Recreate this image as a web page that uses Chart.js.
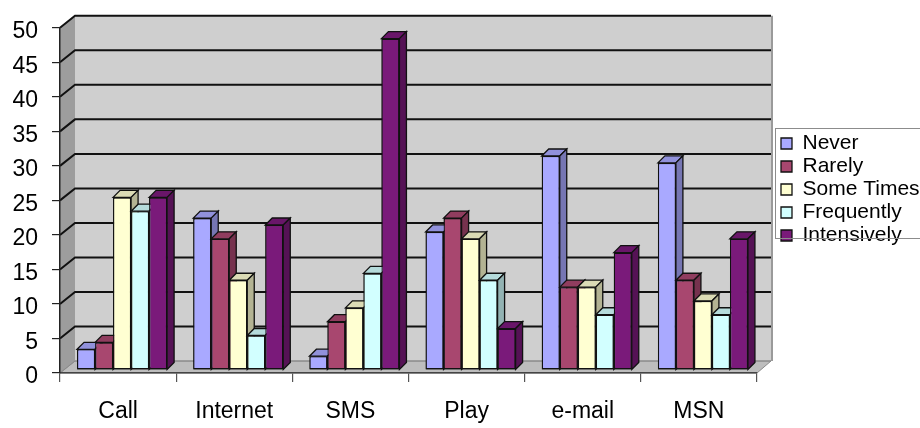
<!DOCTYPE html>
<html>
<head>
<meta charset="utf-8">
<script src="https://cdn.jsdelivr.net/npm/chart.js@4.4.1/dist/chart.umd.min.js"></script>
<style>
  html, body { margin: 0; padding: 0; background: #fff; }
  #wrap { width: 920px; height: 428px; }
</style>
</head>
<body>
<div id="wrap"><canvas id="chart"></canvas></div>
<script>
const categories = ['Call', 'Internet', 'SMS', 'Play', 'e-mail', 'MSN'];
const series_names = ['Never', 'Rarely', 'Some Times', 'Frequently', 'Intensively'];
const never = [3, 22, 2, 20, 31, 30];
const rarely = [4, 19, 7, 22, 12, 13];
const some_times = [25, 13, 9, 19, 12, 10];
const frequently = [23, 5, 14, 13, 8, 8];
const intensively = [25, 21, 48, 6, 17, 19];
const series_colors = ['#a9a9ff', '#a8476f', '#ffffd2', '#d2ffff', '#7a1a7a'];

const FONT = "'Liberation Sans', Arial, sans-serif";
const WALL_DX = 15, WALL_DY = -12;   // depth of the back wall
const BAR_DX = 4, BAR_DY = -3;       // bars sit a bit behind the front plane
const BAR_DEPTH = 7;

function shade(hex, k) {
    const n = parseInt(hex.slice(1), 16);
    const r = Math.round(((n >> 16) & 255) * k);
    const g = Math.round(((n >> 8) & 255) * k);
    const b = Math.round((n & 255) * k);
    return 'rgb(' + r + ',' + g + ',' + b + ')';
}

function poly(ctx, pts, fill, stroke, lw) {
    ctx.beginPath();
    ctx.moveTo(pts[0][0], pts[0][1]);
    for (let i = 1; i < pts.length; i++) ctx.lineTo(pts[i][0], pts[i][1]);
    ctx.closePath();
    if (fill) { ctx.fillStyle = fill; ctx.fill(); }
    if (stroke) { ctx.strokeStyle = stroke; ctx.lineWidth = lw || 1; ctx.stroke(); }
}

const all_values = [never, rarely, some_times, frequently, intensively];

const threeD = {
    id: 'threeD',
    afterLayout(chart) {
        // park the legend where the old Excel chart had it (runs off the right edge)
        const lg = chart.legend;
        lg.left = 779; lg.right = 960;
        lg.top = 131; lg.bottom = 131 + 120;
    },
    beforeDraw(chart) {
        const ctx = chart.ctx;
        const {left: L, right: R, top: T, bottom: B} = chart.chartArea;
        const ys = chart.scales.y;
        ctx.save();
        // back wall
        poly(ctx, [[L + WALL_DX, T + WALL_DY], [R + WALL_DX - 1, T + WALL_DY], [R + WALL_DX - 1, B + WALL_DY], [L + WALL_DX, B + WALL_DY]], '#cfcfcf');
        // side wall
        poly(ctx, [[L, T], [L + WALL_DX, T + WALL_DY], [L + WALL_DX, B + WALL_DY], [L, B]], '#9d9d9d');
        // floor
        poly(ctx, [[L, B], [L + WALL_DX, B + WALL_DY], [R + WALL_DX - 1, B + WALL_DY], [R, B]], '#bdbdbd', '#8a8a8a', 1);
        // right edge of back wall
        ctx.strokeStyle = '#9a9a9a'; ctx.lineWidth = 2;
        ctx.beginPath();
        ctx.moveTo(R + WALL_DX, T + WALL_DY); ctx.lineTo(R + WALL_DX, B + WALL_DY);
        ctx.stroke();
        // gridlines on side + back wall
        ys.ticks.forEach((t) => {
            const y = ys.getPixelForValue(t.value);
            ctx.beginPath();
            ctx.moveTo(L, y);
            ctx.lineTo(L + WALL_DX, y + WALL_DY);
            ctx.lineTo(R + WALL_DX - 1, y + WALL_DY);
            if (t.value === 0) { ctx.strokeStyle = '#8a8a8a'; ctx.lineWidth = 1; }
            else { ctx.strokeStyle = '#111'; ctx.lineWidth = 2; }
            ctx.stroke();
        });
        ctx.restore();
    },
    beforeDatasetDraw(chart) {
        chart.ctx.save();
        chart.ctx.translate(BAR_DX, BAR_DY);
    },
    afterDatasetDraw(chart) {
        chart.ctx.restore();
    },
    afterDatasetsDraw(chart) {
        // redraw every bar left to right with its top and side, so a bar's
        // side is hidden by its right-hand neighbour like in the original
        const ctx = chart.ctx;
        ctx.save();
        ctx.translate(BAR_DX, BAR_DY);
        for (let i = 0; i < series_names.length; i++) {
            const col = series_colors[i];
            chart.getDatasetMeta(i).data.forEach((bar) => {
                bar.draw(ctx);
                const {x, y, base, width} = bar.getProps(['x', 'y', 'base', 'width'], true);
                const l = x - width / 2, r = x + width / 2, d = BAR_DEPTH;
                poly(ctx, [[l, y], [l + d, y - d], [r + d, y - d], [r, y]], shade(col, 0.86), '#111', 1.3);
                poly(ctx, [[r, y], [r + d, y - d], [r + d, base - d], [r, base]], shade(col, 0.7), '#111', 1.3);
            });
        }
        ctx.restore();
    },
    afterDraw(chart) {
        const ctx = chart.ctx;
        ctx.save();
        ctx.strokeStyle = '#8c8c8c'; ctx.lineWidth = 1;
        ctx.strokeRect(775.5, 128.5, 200, 110);
        ctx.restore();
    }
};

const datasets = series_names.map((name, i) => ({
    label: name,
    data: all_values[i],
    backgroundColor: series_colors[i],
    borderColor: '#111',
    borderWidth: 1.3,
    borderSkipped: false,
    clip: false,
    categoryPercentage: 0.775,
    barPercentage: 1.0
}));

new Chart(document.getElementById('chart').getContext('2d'), {
    type: 'bar',
    plugins: [threeD],
    data: { labels: categories, datasets },
    options: {
        responsive: true,
        maintainAspectRatio: false,
        animation: false,
        layout: { padding: { top: 20, right: 33, left: 0, bottom: 0 } },
        scales: {
            x: {
                afterFit: (s) => { s.height = 55; },
                grid: { drawOnChartArea: false, offset: true, tickLength: 9, color: '#555', lineWidth: 1.2 },
                border: { display: true, color: '#444', width: 1.5 },
                ticks: { color: '#000', padding: 16, font: { family: FONT, size: 23 } }
            },
            y: {
                min: 0,
                max: 50,
                afterFit: (s) => { s.width = 60; },
                grid: { drawOnChartArea: false, tickLength: 8, color: '#222', lineWidth: 1.2 },
                border: { display: true, color: '#222', width: 1.5 },
                ticks: { stepSize: 5, color: '#000', padding: 14, labelOffset: 4, font: { family: FONT, size: 23 } }
            }
        },
        plugins: {
            tooltip: { enabled: false },
            legend: {
                position: 'right',
                align: 'start',
                maxWidth: 130,
                labels: {
                    boxWidth: 11,
                    boxHeight: 11,
                    padding: 2,
                    color: '#000',
                    font: { family: FONT, size: 21 }
                }
            }
        }
    }
});
</script>
</body>
</html>
